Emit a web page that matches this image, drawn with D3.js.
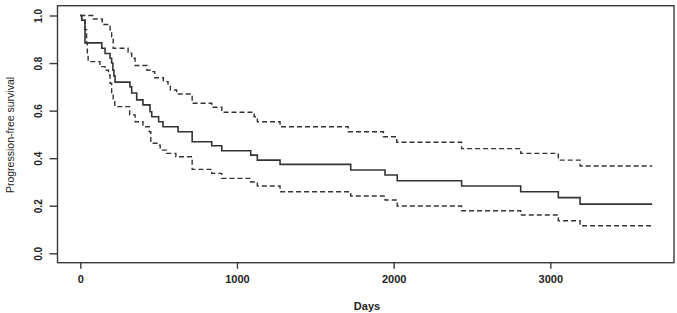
<!DOCTYPE html>
<html>
<head>
<meta charset="utf-8">
<script src="https://cdn.jsdelivr.net/npm/d3@7"></script>
<style>
  body { margin: 0; background: #fff; }
  svg { display: block; }
  text { font-family: "Liberation Sans", Arial, sans-serif; fill: #222; }
</style>
</head>
<body>
<div id="chart"></div>
<script>
// Kaplan-Meier estimate
var survDays = [0, 9, 30, 137, 158, 190, 200, 208, 215, 222, 317, 328, 360, 400, 445, 456, 500, 528, 624, 714, 839, 903, 1088, 1130, 1275, 1726, 1945, 2023, 2434, 2811, 3051, 3190, 3650];
var survVals = [1.0, 0.98, 0.885, 0.862, 0.84, 0.82, 0.80, 0.77, 0.745, 0.72, 0.70, 0.674, 0.645, 0.624, 0.595, 0.574, 0.553, 0.532, 0.511, 0.469, 0.452, 0.431, 0.413, 0.392, 0.374, 0.350, 0.329, 0.305, 0.283, 0.259, 0.234, 0.207, 0.207];

// upper confidence band
var upperDays = [0, 83, 140, 190, 200, 210, 305, 328, 350, 425, 445, 475, 530, 560, 575, 615, 714, 839, 903, 1110, 1130, 1275, 1710, 1935, 2020, 2434, 2811, 3051, 3190, 3650];
var upperVals = [1.0, 0.985, 0.962, 0.94, 0.91, 0.862, 0.841, 0.82, 0.79, 0.77, 0.764, 0.738, 0.722, 0.708, 0.687, 0.670, 0.631, 0.614, 0.593, 0.574, 0.553, 0.532, 0.511, 0.49, 0.467, 0.44, 0.42, 0.392, 0.367, 0.367];

// lower confidence band
var lowerDays = [0, 9, 30, 40, 45, 50, 125, 158, 180, 190, 200, 210, 220, 315, 350, 400, 440, 450, 490, 510, 550, 610, 714, 839, 903, 1088, 1130, 1275, 1726, 1945, 2023, 2434, 2811, 3051, 3190, 3650];
var lowerVals = [1.0, 0.98, 0.94, 0.883, 0.84, 0.806, 0.785, 0.77, 0.75, 0.715, 0.673, 0.645, 0.617, 0.582, 0.553, 0.532, 0.511, 0.463, 0.455, 0.434, 0.42, 0.406, 0.353, 0.336, 0.315, 0.30, 0.283, 0.259, 0.241, 0.224, 0.199, 0.179, 0.161, 0.137, 0.116, 0.116];

var xTicks = [0, 1000, 2000, 3000];
var yTicks = [0.0, 0.2, 0.4, 0.6, 0.8, 1.0];

var width = 677, height = 313;
var box = {left: 57.5, top: 5.7, right: 674, bottom: 262.7};

var svg = d3.select("#chart").append("svg")
    .attr("width", width)
    .attr("height", height);

var x = d3.scaleLinear().domain([0, 3650]).range([80.3, 80.3 + 3650 * 0.15667]);
var y = d3.scaleLinear().domain([0, 1]).range([253.3, 15.5]);

// plot frame
svg.append("rect")
    .attr("x", box.left)
    .attr("y", box.top)
    .attr("width", box.right - box.left)
    .attr("height", box.bottom - box.top)
    .attr("fill", "none")
    .attr("stroke", "#3a3a3a")
    .attr("stroke-width", 1.4);

// x axis
var xAxis = svg.append("g")
    .attr("transform", "translate(0," + box.bottom + ")")
    .call(d3.axisBottom(x).tickValues(xTicks).tickSize(6).tickPadding(7).tickFormat(d3.format("d")));
xAxis.select(".domain").remove();
xAxis.selectAll("line").attr("stroke", "#3a3a3a").attr("stroke-width", 1.4);
xAxis.selectAll("text")
    .attr("font-size", "11px")
    .attr("font-weight", "bold")
    .attr("font-family", "Liberation Sans, Arial, sans-serif")
    .attr("fill", "#222");

// y axis (R style, labels turned)
var yAxis = svg.append("g")
    .attr("transform", "translate(" + box.left + ",0)")
    .call(d3.axisLeft(y).tickValues(yTicks).tickSize(8).tickFormat(d3.format(".1f")));
yAxis.select(".domain").remove();
yAxis.selectAll("line").attr("stroke", "#3a3a3a").attr("stroke-width", 1.4);
yAxis.selectAll("text")
    .attr("font-size", "10px")
    .attr("font-weight", "bold")
    .attr("font-family", "Liberation Sans, Arial, sans-serif")
    .attr("fill", "#222")
    .attr("text-anchor", "middle")
    .attr("dy", null)
    .attr("x", null)
    .attr("transform", "translate(-16,0) rotate(-90)");

// axis titles
svg.append("text")
    .attr("x", 367)
    .attr("y", 310)
    .attr("text-anchor", "middle")
    .attr("font-size", "11px")
    .attr("font-weight", "bold")
    .text("Days");

svg.append("text")
    .attr("transform", "translate(13.5,135) rotate(-90)")
    .attr("text-anchor", "middle")
    .attr("font-size", "10.5px")
    .text("Progression-free survival");

// curves
var line = d3.line()
    .x(function(d) { return x(d[0]); })
    .y(function(d) { return y(d[1]); })
    .curve(d3.curveStepAfter);

function pairs(ds, vs) { return ds.map(function(d, i) { return [d, vs[i]]; }); }

svg.append("path")
    .datum(pairs(upperDays, upperVals))
    .attr("d", line)
    .attr("fill", "none")
    .attr("stroke", "#333")
    .attr("stroke-width", 1.4)
    .attr("stroke-dasharray", "5,3");

svg.append("path")
    .datum(pairs(lowerDays, lowerVals))
    .attr("d", line)
    .attr("fill", "none")
    .attr("stroke", "#333")
    .attr("stroke-width", 1.4)
    .attr("stroke-dasharray", "5,3");

svg.append("path")
    .datum(pairs(survDays, survVals))
    .attr("d", line)
    .attr("fill", "none")
    .attr("stroke", "#333")
    .attr("stroke-width", 1.6);
</script>
</body>
</html>
